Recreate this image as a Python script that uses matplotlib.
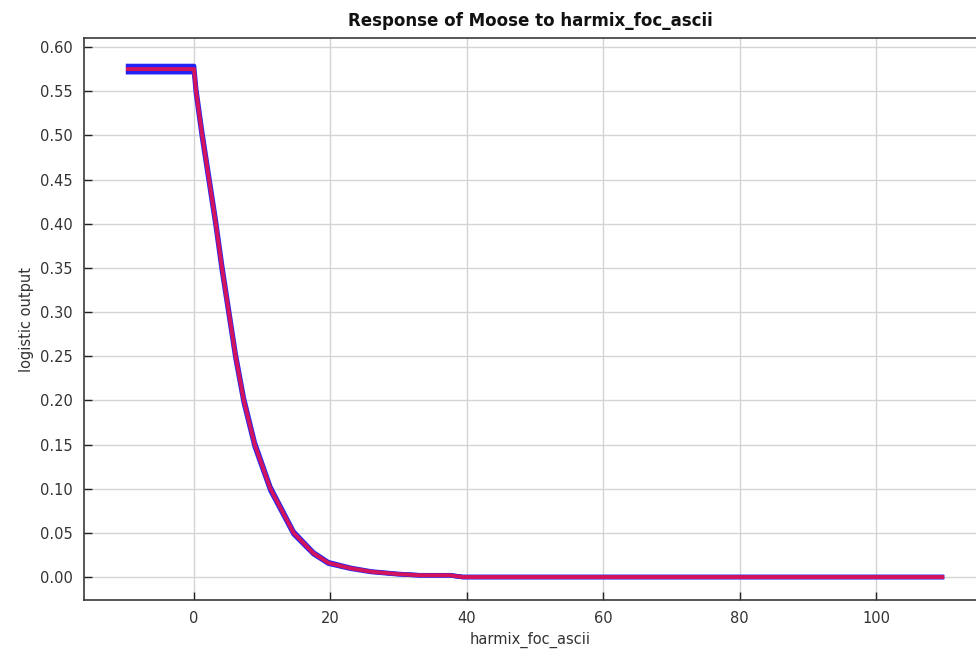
import matplotlib
matplotlib.use("Agg")
import matplotlib.pyplot as plt

# Response curve of Moose to harmix_foc_ascii (mean with +/- one sd)
x_vals = [-10.0, 0.0, 0.3, 1.2, 2.2, 3.2, 4.1, 5.1, 6.1, 7.3, 8.9, 11.2, 14.6,
          17.5, 19.7, 22.9, 26.0, 29.8, 33.0, 37.5, 39.4, 110.0]
y_mean = [0.575, 0.575, 0.55, 0.50, 0.45, 0.40, 0.35, 0.30, 0.25, 0.20, 0.15,
          0.10, 0.05, 0.027, 0.016, 0.010, 0.006, 0.0034, 0.002, 0.002, 0.0, 0.0]
y_sd = [0.0035, 0.0035, 0.0035, 0.0035, 0.0035, 0.0035, 0.0035, 0.003, 0.003,
        0.0028, 0.0025, 0.002, 0.0015, 0.001, 0.0008, 0.0005, 0.0003, 0.0002,
        0.0, 0.0, 0.0, 0.0]

x_ticks = [0, 20, 40, 60, 80, 100]
y_ticks = [0.00, 0.05, 0.10, 0.15, 0.20, 0.25, 0.30, 0.35, 0.40, 0.45, 0.50,
           0.55, 0.60]

title = "Response of Moose to harmix_foc_ascii"
x_label = "harmix_foc_ascii"
y_label = "logistic output"

plt.rcParams["font.family"] = ["DejaVu Sans"]

fig = plt.figure(figsize=(9.76, 6.68), dpi=100)
ax = fig.add_axes([84 / 976, 68 / 668, 892 / 976, 562 / 668])

upper = [m + s for m, s in zip(y_mean, y_sd)]
lower = [m - s for m, s in zip(y_mean, y_sd)]

blue = "#2323f5"
red = "#d3145c"
ax.plot(x_vals, upper, color=blue, lw=3.3, solid_capstyle="butt", zorder=3)
ax.plot(x_vals, lower, color=blue, lw=3.3, solid_capstyle="butt", zorder=3)
ax.plot(x_vals, y_mean, color=red, lw=2.8, solid_capstyle="butt", zorder=4)

ax.set_xlim(-16.13, 114.66)
ax.set_ylim(-0.026, 0.6102)
ax.set_xticks(x_ticks)
ax.set_yticks(y_ticks)
ax.set_yticklabels([f"{v:.2f}" for v in y_ticks])

ax.grid(True, color="#d4d4d4", lw=1.0, zorder=0)
ax.set_axisbelow(True)

for side in ("left", "bottom", "top"):
    ax.spines[side].set_color("#3a3a3a")
    ax.spines[side].set_linewidth(1.2)
ax.spines["right"].set_visible(False)

ax.tick_params(axis="both", direction="in", length=6, width=1.0,
               color="#222222", labelsize=10.5, labelcolor="#333333", pad=8)
ax.tick_params(top=False, right=False)

ax.set_title(title, fontsize=12, fontweight="bold", color="#111111", pad=9)
ax.set_xlabel(x_label, fontsize=10.5, color="#333333", labelpad=4)
ax.set_ylabel(y_label, fontsize=10.5, color="#333333", labelpad=4)

fig.savefig("out.png", dpi=100)
